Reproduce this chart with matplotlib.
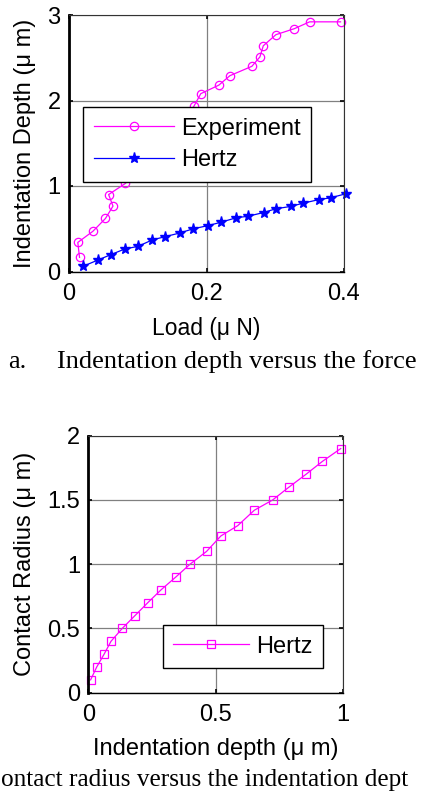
import matplotlib
matplotlib.use("Agg")
import matplotlib.pyplot as plt

# ---- data ----
exp_load = [0.0153, 0.0128, 0.0347, 0.053, 0.064, 0.0576, 0.082, 0.10, 0.12, 0.14, 0.16,
            0.1815, 0.1917, 0.218, 0.234, 0.266, 0.2777, 0.2826, 0.301, 0.3277, 0.35, 0.395]
exp_depth = [0.165, 0.34, 0.47, 0.62, 0.765, 0.90, 1.03, 1.18, 1.35, 1.55, 1.75,
             1.93, 2.08, 2.18, 2.29, 2.40, 2.51, 2.64, 2.77, 2.84, 2.92, 2.92]
hertz_load = [0.0202, 0.042, 0.0605, 0.081, 0.1003, 0.121, 0.140, 0.161, 0.180, 0.2023,
              0.221, 0.243, 0.261, 0.283, 0.301, 0.3225, 0.341, 0.363, 0.381, 0.403]
hertz_depth = [0.06, 0.134, 0.196, 0.263, 0.294, 0.369, 0.408, 0.45, 0.498, 0.537,
               0.576, 0.628, 0.647, 0.69, 0.734, 0.761, 0.80, 0.84, 0.863, 0.91]
cr_depth = [0.009, 0.033, 0.062, 0.089, 0.133, 0.183, 0.233, 0.285, 0.343, 0.399,
            0.464, 0.52, 0.586, 0.651, 0.723, 0.787, 0.854, 0.918, 0.99]
cr_radius = [0.1, 0.2, 0.3, 0.4, 0.5, 0.6, 0.7, 0.8, 0.9, 1.0,
             1.1, 1.22, 1.3, 1.42, 1.5, 1.6, 1.7, 1.8, 1.9]

top_xticks = [0, 0.2, 0.4]
top_xticklabels = ["0", "0.2", "0.4"]
top_yticks = [0, 1, 2, 3]
top_yticklabels = ["0", "1", "2", "3"]
bot_xticks = [0, 0.5, 1]
bot_xticklabels = ["0", "0.5", "1"]
bot_yticks = [0, 0.5, 1, 1.5, 2]
bot_yticklabels = ["0", "0.5", "1", "1.5", "2"]

SANS = ["Liberation Sans", "DejaVu Sans"]
SERIF = ["Liberation Serif", "DejaVu Serif"]
plt.rcParams['font.family'] = SANS

W, H = 421, 793
fig = plt.figure(figsize=(W / 100, H / 100), dpi=100)

def px_axes(l, t, r, b):
    return fig.add_axes([l / W, 1 - b / H, (r - l) / W, (b - t) / H])

def style(ax, xt, xtl, yt, ytl, xl, yl):
    ax.set_xticks(xt)
    ax.set_xticklabels(xtl)
    ax.set_yticks(yt)
    ax.set_yticklabels(ytl)
    ax.set_xlim(xl)
    ax.set_ylim(yl)
    ax.grid(True, color="#808080", lw=0.9, ls="-")
    ax.set_axisbelow(True)
    ax.tick_params(direction="in", length=3, width=1.2, top=True, right=True,
                   labelsize=17, colors="black", pad=6)
    ax.tick_params(axis="x", pad=8)
    for s in ["top", "right"]:
        ax.spines[s].set_linewidth(0.8)
        ax.spines[s].set_color("#333333")
    ax.spines["left"].set_linewidth(2.0)
    ax.spines["bottom"].set_linewidth(1.0)

# ---- top chart ----
ax1 = px_axes(69, 15, 344, 271.5)
style(ax1, top_xticks, top_xticklabels, top_yticks, top_yticklabels, (0, 0.4), (0, 3))
ax1.plot(exp_load, exp_depth, color="#FF00FF", lw=0.9, marker="o", ms=6,
         mfc="none", mec="#FF00FF", mew=0.9, clip_on=False, label="Experiment")
ax1.plot(hertz_load, hertz_depth, color="#0000FF", lw=0.9, marker="*", ms=8,
         mfc="#0000FF", mec="#0000FF", clip_on=False, label="Hertz")
ax1.set_xlabel("Load (μ N)", fontsize=16.5, labelpad=9)
ax1.set_ylabel("Indentation Depth (μ m)", fontsize=17, labelpad=8)
leg1 = ax1.legend(loc="upper left", bbox_to_anchor=(0.051, 0.641), borderaxespad=0,
                  fontsize=17, handlelength=3.4, handletextpad=0.3, frameon=True,
                  fancybox=False, edgecolor="black", framealpha=1, labelspacing=0.4,
                  borderpad=0.45)
leg1.get_frame().set_linewidth(1.0)

fig.text(8 / W, 1 - 362 / H, "a.", fontsize=19, family=SERIF, va="center", ha="left")
fig.text(57 / W, 1 - 362 / H, "Indentation depth versus the force", fontsize=19,
         family=SERIF, va="center", ha="left")

# ---- bottom chart ----
ax2 = px_axes(88.3, 435.7, 343.3, 692.7)
style(ax2, bot_xticks, bot_xticklabels, bot_yticks, bot_yticklabels, (0, 1), (0, 2))
ax2.plot(cr_depth, cr_radius, color="#FF00FF", lw=0.9, marker="s", ms=6,
         mfc="none", mec="#FF00FF", mew=0.9, clip_on=False, label="Hertz")
ax2.set_xlabel("Indentation depth (μ m)", fontsize=17, labelpad=9)
ax2.set_ylabel("Contact Radius (μ m)", fontsize=17, labelpad=8)
leg2 = ax2.legend(loc="lower left", bbox_to_anchor=(0.292, 0.095), borderaxespad=0,
                  fontsize=17, handlelength=3.2, handletextpad=0.3, frameon=True,
                  fancybox=False, edgecolor="black", framealpha=1, borderpad=0.45)
leg2.get_frame().set_linewidth(1.0)

fig.text(1 / W, 1 - 780 / H, "ontact radius versus the indentation dept", fontsize=18.2,
         family=SERIF, va="center", ha="left")

fig.savefig("out.png", dpi=100)
